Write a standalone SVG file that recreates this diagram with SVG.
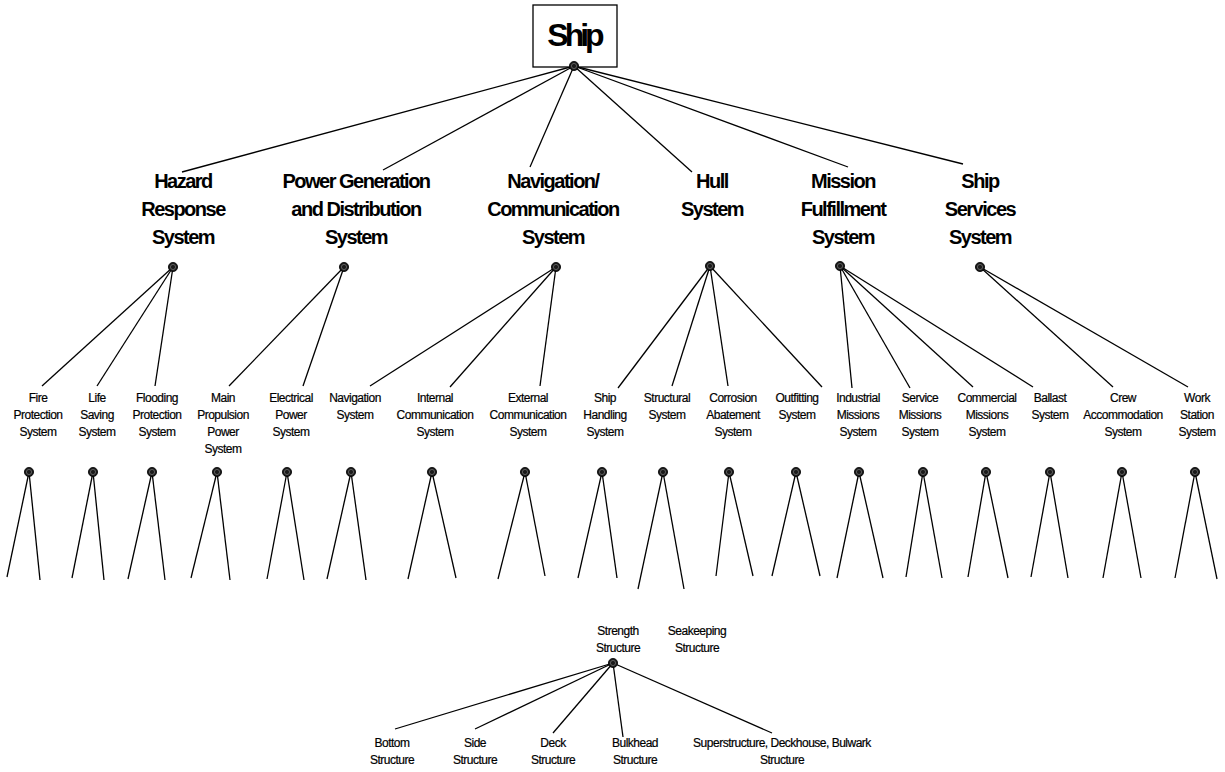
<svg xmlns="http://www.w3.org/2000/svg" width="1225" height="772" viewBox="0 0 1225 772">
  <defs>
    <style>
      .l0 { font-family: "Liberation Sans", Arial, sans-serif; font-weight: bold; font-size: 32px; letter-spacing: -4px; fill: #000; text-anchor: middle; }
      .l1 { font-family: "Liberation Sans", Arial, sans-serif; font-weight: bold; font-size: 20px; letter-spacing: -1.5px; fill: #000; text-anchor: middle; }
      .l2 { font-family: "Liberation Sans", Arial, sans-serif; font-size: 12px; letter-spacing: -0.5px; fill: #000; stroke: #000; stroke-width: 0.2; text-anchor: middle; }
      .box { fill: #fff; stroke: #000; stroke-width: 1.3; }
      .conn line { stroke: #000; stroke-width: 1.3; stroke-linecap: butt; }
    </style>
    <!-- junction knob: dark disc with a faint inner ring -->
    <g id="knob">
      <circle r="4.6" fill="#1a1a1a" stroke="#000" stroke-width="0.8"/>
      <circle r="2.6" fill="none" stroke="#777" stroke-width="0.7"/>
    </g>
  </defs>

  <rect width="1225" height="772" fill="#fff"/>

  <!-- connectors -->
  <g id="connectors" class="conn">
    <!-- ship to systems -->
    <line x1="574" y1="66" x2="182" y2="172"/>
    <line x1="574" y1="66" x2="383" y2="170"/>
    <line x1="574" y1="66" x2="530" y2="167"/>
    <line x1="574" y1="66" x2="692" y2="172"/>
    <line x1="574" y1="66" x2="848" y2="167"/>
    <line x1="574" y1="66" x2="963" y2="164"/>

    <!-- hazard response -->
    <line x1="173" y1="267" x2="42" y2="386"/>
    <line x1="173" y1="267" x2="97" y2="386"/>
    <line x1="173" y1="267" x2="155" y2="386"/>
    <!-- power generation -->
    <line x1="344" y1="267" x2="229" y2="386"/>
    <line x1="344" y1="267" x2="303" y2="386"/>
    <!-- navigation / communication -->
    <line x1="556" y1="267" x2="370" y2="386"/>
    <line x1="556" y1="267" x2="450" y2="387"/>
    <line x1="556" y1="267" x2="540" y2="386"/>
    <!-- hull -->
    <line x1="710" y1="266" x2="618" y2="388"/>
    <line x1="710" y1="266" x2="672" y2="386"/>
    <line x1="710" y1="266" x2="728" y2="386"/>
    <line x1="710" y1="266" x2="822" y2="387"/>
    <!-- mission fulfillment -->
    <line x1="840" y1="266" x2="852" y2="388"/>
    <line x1="840" y1="266" x2="910" y2="388"/>
    <line x1="840" y1="266" x2="973" y2="387"/>
    <line x1="840" y1="266" x2="1033" y2="387"/>
    <!-- ship services -->
    <line x1="980" y1="267" x2="1113" y2="387"/>
    <line x1="980" y1="267" x2="1188" y2="387"/>

    <!-- open legs below each subsystem -->
    <line x1="29" y1="472" x2="7" y2="577"/>
    <line x1="29" y1="472" x2="40" y2="580"/>
    <line x1="93" y1="472" x2="72" y2="578"/>
    <line x1="93" y1="472" x2="104" y2="580"/>
    <line x1="152" y1="472" x2="128" y2="579"/>
    <line x1="152" y1="472" x2="165" y2="580"/>
    <line x1="217" y1="472" x2="191" y2="578"/>
    <line x1="217" y1="472" x2="230" y2="580"/>
    <line x1="287" y1="472" x2="267" y2="579"/>
    <line x1="287" y1="472" x2="304" y2="580"/>
    <line x1="351" y1="472" x2="327" y2="579"/>
    <line x1="351" y1="472" x2="366" y2="580"/>
    <line x1="432" y1="472" x2="408" y2="579"/>
    <line x1="432" y1="472" x2="456" y2="578"/>
    <line x1="525" y1="472" x2="498" y2="579"/>
    <line x1="525" y1="472" x2="545" y2="576"/>
    <line x1="602" y1="472" x2="578" y2="578"/>
    <line x1="602" y1="472" x2="617" y2="578"/>
    <line x1="663" y1="472" x2="638" y2="589"/>
    <line x1="663" y1="472" x2="684" y2="589"/>
    <line x1="729" y1="472" x2="716" y2="576"/>
    <line x1="729" y1="472" x2="753" y2="576"/>
    <line x1="796" y1="472" x2="772" y2="576"/>
    <line x1="796" y1="472" x2="820" y2="576"/>
    <line x1="859" y1="472" x2="837" y2="578"/>
    <line x1="859" y1="472" x2="883" y2="578"/>
    <line x1="923" y1="472" x2="906" y2="577"/>
    <line x1="923" y1="472" x2="942" y2="578"/>
    <line x1="986" y1="472" x2="968" y2="577"/>
    <line x1="986" y1="472" x2="1008" y2="578"/>
    <line x1="1050" y1="472" x2="1031" y2="577"/>
    <line x1="1050" y1="472" x2="1068" y2="578"/>
    <line x1="1122" y1="472" x2="1103" y2="578"/>
    <line x1="1122" y1="472" x2="1141" y2="578"/>
    <line x1="1195" y1="472" x2="1175" y2="578"/>
    <line x1="1195" y1="472" x2="1217" y2="579"/>

    <!-- strength structure breakdown -->
    <line x1="613" y1="663" x2="395" y2="729"/>
    <line x1="613" y1="663" x2="475" y2="729"/>
    <line x1="613" y1="663" x2="553" y2="733"/>
    <line x1="613" y1="663" x2="623" y2="737"/>
    <line x1="613" y1="663" x2="772" y2="733"/>
  </g>

  <!-- root -->
  <g id="ship">
    <rect class="box" x="533" y="5" width="84" height="62"/>
    <text class="l0" x="574" y="46">Ship</text>
    <use href="#knob" x="574" y="66"/>
  </g>

  <!-- systems -->
  <g id="hazard-response">
    <text class="l1" x="183" y="188"><tspan x="183">Hazard</tspan><tspan x="183" dy="28">Response</tspan><tspan x="183" dy="28">System</tspan></text>
    <use href="#knob" x="173" y="267"/>
  </g>
  <g id="power-generation">
    <text class="l1" x="356" y="188"><tspan x="356">Power Generation</tspan><tspan x="356" dy="28">and Distribution</tspan><tspan x="356" dy="28">System</tspan></text>
    <use href="#knob" x="344" y="267"/>
  </g>
  <g id="navigation-communication">
    <text class="l1" x="553" y="188"><tspan x="553">Navigation/</tspan><tspan x="553" dy="28">Communication</tspan><tspan x="553" dy="28">System</tspan></text>
    <use href="#knob" x="556" y="267"/>
  </g>
  <g id="hull">
    <text class="l1" x="712" y="188"><tspan x="712">Hull</tspan><tspan x="712" dy="28">System</tspan></text>
    <use href="#knob" x="710" y="266"/>
  </g>
  <g id="mission-fulfillment">
    <text class="l1" x="843" y="188"><tspan x="843">Mission</tspan><tspan x="843" dy="28">Fulfillment</tspan><tspan x="843" dy="28">System</tspan></text>
    <use href="#knob" x="840" y="266"/>
  </g>
  <g id="ship-services">
    <text class="l1" x="980" y="188"><tspan x="980">Ship</tspan><tspan x="980" dy="28">Services</tspan><tspan x="980" dy="28">System</tspan></text>
    <use href="#knob" x="980" y="267"/>
  </g>

  <!-- subsystems -->
  <g id="fire-protection">
    <text class="l2" y="402"><tspan x="38">Fire</tspan><tspan x="38" dy="17">Protection</tspan><tspan x="38" dy="17">System</tspan></text>
    <use href="#knob" x="29" y="472"/>
  </g>
  <g id="life-saving">
    <text class="l2" y="402"><tspan x="97">Life</tspan><tspan x="97" dy="17">Saving</tspan><tspan x="97" dy="17">System</tspan></text>
    <use href="#knob" x="93" y="472"/>
  </g>
  <g id="flooding-protection">
    <text class="l2" y="402"><tspan x="157">Flooding</tspan><tspan x="157" dy="17">Protection</tspan><tspan x="157" dy="17">System</tspan></text>
    <use href="#knob" x="152" y="472"/>
  </g>
  <g id="main-propulsion">
    <text class="l2" y="402"><tspan x="223">Main</tspan><tspan x="223" dy="17">Propulsion</tspan><tspan x="223" dy="17">Power</tspan><tspan x="223" dy="17">System</tspan></text>
    <use href="#knob" x="217" y="472"/>
  </g>
  <g id="electrical-power">
    <text class="l2" y="402"><tspan x="291">Electrical</tspan><tspan x="291" dy="17">Power</tspan><tspan x="291" dy="17">System</tspan></text>
    <use href="#knob" x="287" y="472"/>
  </g>
  <g id="navigation">
    <text class="l2" y="402"><tspan x="355">Navigation</tspan><tspan x="355" dy="17">System</tspan></text>
    <use href="#knob" x="351" y="472"/>
  </g>
  <g id="internal-communication">
    <text class="l2" y="402"><tspan x="435">Internal</tspan><tspan x="435" dy="17">Communication</tspan><tspan x="435" dy="17">System</tspan></text>
    <use href="#knob" x="432" y="472"/>
  </g>
  <g id="external-communication">
    <text class="l2" y="402"><tspan x="528">External</tspan><tspan x="528" dy="17">Communication</tspan><tspan x="528" dy="17">System</tspan></text>
    <use href="#knob" x="525" y="472"/>
  </g>
  <g id="ship-handling">
    <text class="l2" y="402"><tspan x="605">Ship</tspan><tspan x="605" dy="17">Handling</tspan><tspan x="605" dy="17">System</tspan></text>
    <use href="#knob" x="602" y="472"/>
  </g>
  <g id="structural">
    <text class="l2" y="402"><tspan x="667">Structural</tspan><tspan x="667" dy="17">System</tspan></text>
    <use href="#knob" x="663" y="472"/>
  </g>
  <g id="corrosion-abatement">
    <text class="l2" y="402"><tspan x="733">Corrosion</tspan><tspan x="733" dy="17">Abatement</tspan><tspan x="733" dy="17">System</tspan></text>
    <use href="#knob" x="729" y="472"/>
  </g>
  <g id="outfitting">
    <text class="l2" y="402"><tspan x="797">Outfitting</tspan><tspan x="797" dy="17">System</tspan></text>
    <use href="#knob" x="796" y="472"/>
  </g>
  <g id="industrial-missions">
    <text class="l2" y="402"><tspan x="858">Industrial</tspan><tspan x="858" dy="17">Missions</tspan><tspan x="858" dy="17">System</tspan></text>
    <use href="#knob" x="859" y="472"/>
  </g>
  <g id="service-missions">
    <text class="l2" y="402"><tspan x="920">Service</tspan><tspan x="920" dy="17">Missions</tspan><tspan x="920" dy="17">System</tspan></text>
    <use href="#knob" x="923" y="472"/>
  </g>
  <g id="commercial-missions">
    <text class="l2" y="402"><tspan x="987">Commercial</tspan><tspan x="987" dy="17">Missions</tspan><tspan x="987" dy="17">System</tspan></text>
    <use href="#knob" x="986" y="472"/>
  </g>
  <g id="ballast">
    <text class="l2" y="402"><tspan x="1050">Ballast</tspan><tspan x="1050" dy="17">System</tspan></text>
    <use href="#knob" x="1050" y="472"/>
  </g>
  <g id="crew-accommodation">
    <text class="l2" y="402"><tspan x="1123">Crew</tspan><tspan x="1123" dy="17">Accommodation</tspan><tspan x="1123" dy="17">System</tspan></text>
    <use href="#knob" x="1122" y="472"/>
  </g>
  <g id="work-station">
    <text class="l2" y="402"><tspan x="1197">Work</tspan><tspan x="1197" dy="17">Station</tspan><tspan x="1197" dy="17">System</tspan></text>
    <use href="#knob" x="1195" y="472"/>
  </g>

  <!-- structural breakdown -->
  <g id="strength-structure">
    <text class="l2" y="635"><tspan x="618">Strength</tspan><tspan x="618" dy="17">Structure</tspan></text>
    <use href="#knob" x="613" y="663"/>
  </g>
  <g id="seakeeping-structure">
    <text class="l2" y="635"><tspan x="697">Seakeeping</tspan><tspan x="697" dy="17">Structure</tspan></text>
  </g>

  <!-- the third line of these labels runs past the lower edge of the sheet -->
  <g id="bottom-structure">
    <text class="l2" y="747"><tspan x="392">Bottom</tspan><tspan x="392" dy="17">Structure</tspan><tspan x="392" dy="17">System</tspan></text>
  </g>
  <g id="side-structure">
    <text class="l2" y="747"><tspan x="475">Side</tspan><tspan x="475" dy="17">Structure</tspan><tspan x="475" dy="17">System</tspan></text>
  </g>
  <g id="deck-structure">
    <text class="l2" y="747"><tspan x="553">Deck</tspan><tspan x="553" dy="17">Structure</tspan><tspan x="553" dy="17">System</tspan></text>
  </g>
  <g id="bulkhead-structure">
    <text class="l2" y="747"><tspan x="635">Bulkhead</tspan><tspan x="635" dy="17">Structure</tspan><tspan x="635" dy="17">System</tspan></text>
  </g>
  <g id="superstructure">
    <text class="l2" y="747"><tspan x="782">Superstructure, Deckhouse, Bulwark</tspan><tspan x="782" dy="17">Structure</tspan></text>
  </g>
</svg>
